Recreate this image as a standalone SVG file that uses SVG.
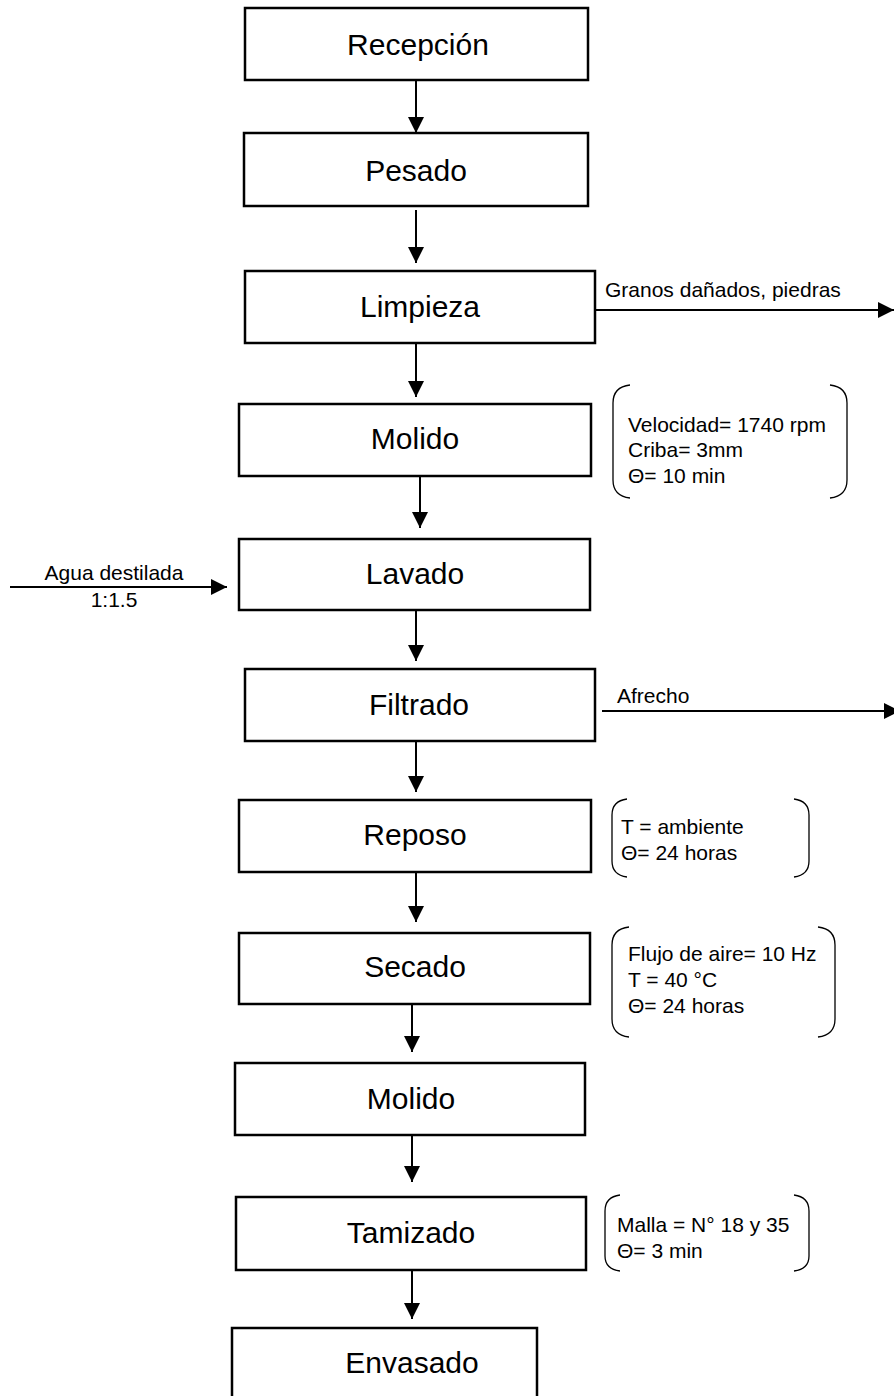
<svg xmlns="http://www.w3.org/2000/svg" width="894" height="1396" viewBox="0 0 894 1396">
<style>
.box{fill:#fff;stroke:#000;stroke-width:2.5}
.lbl{font-family:"Liberation Sans",Arial,sans-serif;font-size:30px;fill:#000;text-anchor:middle}
.sm{font-family:"Liberation Sans",Arial,sans-serif;font-size:21px;fill:#000}
.c{stroke:#000;stroke-width:2;fill:none}
.br{stroke:#000;stroke-width:1.3;fill:none}
</style>
<defs>
<marker id="ah" markerUnits="userSpaceOnUse" markerWidth="16" markerHeight="16" refX="15" refY="7.5" orient="auto" viewBox="0 0 15 15">
<path d="M0,0 L15,7.5 L0,15 z" fill="#000"/>
</marker>
</defs>
<rect width="894" height="1396" fill="#fff"/>
<g id="connectors">
<line class="c" x1="416" y1="81" x2="416" y2="133" marker-end="url(#ah)"/>
<line class="c" x1="416" y1="210" x2="416" y2="263" marker-end="url(#ah)"/>
<line class="c" x1="416" y1="344" x2="416" y2="397" marker-end="url(#ah)"/>
<line class="c" x1="420" y1="477" x2="420" y2="528" marker-end="url(#ah)"/>
<line class="c" x1="416" y1="611" x2="416" y2="661" marker-end="url(#ah)"/>
<line class="c" x1="416" y1="742" x2="416" y2="792" marker-end="url(#ah)"/>
<line class="c" x1="416" y1="872" x2="416" y2="922" marker-end="url(#ah)"/>
<line class="c" x1="412" y1="1000" x2="412" y2="1052" marker-end="url(#ah)"/>
<line class="c" x1="412" y1="1131" x2="412" y2="1182" marker-end="url(#ah)"/>
<line class="c" x1="412" y1="1271" x2="412" y2="1319" marker-end="url(#ah)"/>
<line class="c" x1="596" y1="310" x2="894" y2="310" marker-end="url(#ah)"/>
<line class="c" x1="602" y1="711" x2="900" y2="711" marker-end="url(#ah)"/>
<line class="c" x1="10" y1="587" x2="227" y2="587" marker-end="url(#ah)"/>
<text class="sm" x="605" y="297">Granos dañados, piedras</text>
<text class="sm" x="617" y="703">Afrecho</text>
<text class="sm" x="114" y="580" text-anchor="middle">Agua destilada</text>
<text class="sm" x="114" y="607" text-anchor="middle">1:1.5</text>
</g>
<g id="n1"><rect class="box" x="245" y="8" width="343" height="72"/><text class="lbl" x="418" y="55">Recepción</text></g>
<g id="n2"><rect class="box" x="244" y="133" width="344" height="73"/><text class="lbl" x="416" y="181">Pesado</text></g>
<g id="n3"><rect class="box" x="245" y="271" width="350" height="72"/><text class="lbl" x="420" y="317">Limpieza</text></g>
<g id="n4"><rect class="box" x="239" y="404" width="352" height="72"/><text class="lbl" x="415" y="449">Molido</text></g>
<g id="n5"><rect class="box" x="239" y="539" width="351" height="71"/><text class="lbl" x="415" y="584">Lavado</text></g>
<g id="n6"><rect class="box" x="245" y="669" width="350" height="72"/><text class="lbl" x="419" y="715">Filtrado</text></g>
<g id="n7"><rect class="box" x="239" y="800" width="352" height="72"/><text class="lbl" x="415" y="845">Reposo</text></g>
<g id="n8"><rect class="box" x="239" y="933" width="351" height="71"/><text class="lbl" x="415" y="977">Secado</text></g>
<g id="n9"><rect class="box" x="235" y="1063" width="350" height="72"/><text class="lbl" x="411" y="1109">Molido</text></g>
<g id="n10"><rect class="box" x="236" y="1197" width="350" height="73"/><text class="lbl" x="411" y="1243">Tamizado</text></g>
<g id="n11"><rect class="box" x="232" y="1328" width="305" height="90"/><text class="lbl" x="412" y="1373">Envasado</text></g>
<g id="note1">
<path class="br" d="M630,385 Q613,387 613,403 L613,480 Q613,496 630,498"/>
<path class="br" d="M830,385 Q847,387 847,403 L847,480 Q847,496 830,498"/>
<text class="sm" x="628" y="432">Velocidad= 1740 rpm</text>
<text class="sm" x="628" y="457">Criba= 3mm</text>
<text class="sm" x="628" y="483">Θ= 10 min</text>
</g>
<g id="note2">
<path class="br" d="M627,799 Q612,801 612,815 L612,861 Q612,875 627,877"/>
<path class="br" d="M794,799 Q809,801 809,815 L809,861 Q809,875 794,877"/>
<text class="sm" x="621" y="834">T = ambiente</text>
<text class="sm" x="621" y="860">Θ= 24 horas</text>
</g>
<g id="note3">
<path class="br" d="M629,927 Q612,929 612,945 L612,1019 Q612,1035 629,1037"/>
<path class="br" d="M818,927 Q835,929 835,945 L835,1019 Q835,1035 818,1037"/>
<text class="sm" x="628" y="961">Flujo de aire= 10 Hz</text>
<text class="sm" x="628" y="987">T = 40 °C</text>
<text class="sm" x="628" y="1013">Θ= 24 horas</text>
</g>
<g id="note4">
<path class="br" d="M620,1195 Q605,1197 605,1211 L605,1256 Q605,1269 620,1271"/>
<path class="br" d="M794,1195 Q809,1197 809,1211 L809,1256 Q809,1269 794,1271"/>
<text class="sm" x="617" y="1232">Malla = N° 18 y 35</text>
<text class="sm" x="617" y="1258">Θ= 3 min</text>
</g>
</svg>
